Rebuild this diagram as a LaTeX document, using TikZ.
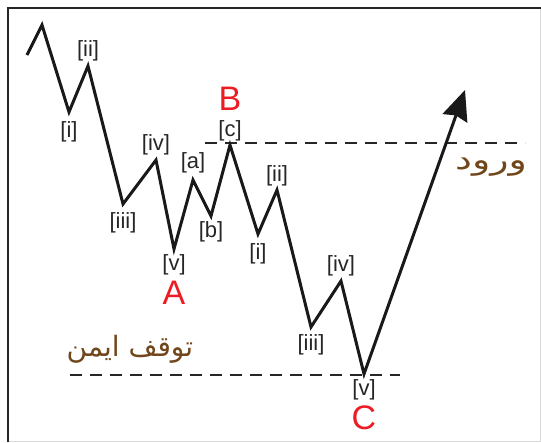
\documentclass[tikz,border=0pt]{standalone}
\usepackage{fontspec}
\setmainfont{Liberation Sans}
\newfontfamily\arabicfont[Script=Arabic]{DejaVu Sans}
\TeXXeTstate=1
\usetikzlibrary{arrows.meta,positioning}
\definecolor{wavered}{RGB}{237,28,36}
\definecolor{notebrown}{RGB}{112,70,26}

\begin{document}
\begin{tikzpicture}[x=1pt, y=-1pt,
  wave/.style={line width=3pt, line join=miter, black!90},
  level/.style={dash pattern=on 12pt off 8pt, line width=2.8pt, black!85},
  tag/.style={font=\fontsize{22}{22}\selectfont, inner sep=0pt, text=black!85},
  letter/.style={font=\fontsize{34}{34}\selectfont, inner sep=0pt, text=wavered},
  note/.style={font=\arabicfont\fontsize{28}{28}\selectfont, inner sep=0pt, text=notebrown},
  arrowtip/.style={-{Stealth[length=30pt, width=26pt, inset=3pt]}}
]
\useasboundingbox (0,0) rectangle (541,442);
% frame
\draw[line width=1pt, black!15] (540,8) -- (540,441) -- (8,441);
\draw[line width=2pt, black!85] (8,442) -- (8,8) -- (541,8);

% wave points
\coordinate (start) at (27,55);
\coordinate (top) at (42,25);
\coordinate (i1) at (69,112);
\coordinate (ii1) at (88,66);
\coordinate (iii1) at (123,204);
\coordinate (iv1) at (156,160);
\coordinate (vA) at (174,249);
\coordinate (a) at (193,180);
\coordinate (b) at (211,216);
\coordinate (cB) at (230,145);
\coordinate (i2) at (258,234);
\coordinate (ii2) at (277,190);
\coordinate (iii2) at (311,327);
\coordinate (iv2) at (341,281);
\coordinate (vC) at (364,374);
\coordinate (tip) at (465,90);

% levels
\coordinate (entry-l) at (205,143);
\coordinate (entry-r) at (525,143);
\coordinate (stop-l) at (70,375);
\coordinate (stop-r) at (400,375);
\draw[level] (entry-l) -- (entry-r);
\draw[level] (stop-l) -- (stop-r);

\draw[wave, arrowtip] (start) -- (top) -- (i1) -- (ii1) -- (iii1) -- (iv1) -- (vA)
  -- (a) -- (b) -- (cB) -- (i2) -- (ii2) -- (iii2) -- (iv2) -- (vC) -- (tip);

% labels
\node[tag, below=9pt of i1] (lbl-i1) {[i]};
\node[tag, above=5pt of ii1] (lbl-ii1) {[ii]};
\node[tag, below=8pt of iii1] (lbl-iii1) {[iii]};
\node[tag, above=5pt of iv1] (lbl-iv1) {[iv]};
\node[tag, below=5pt of vA] (lbl-vA) {[v]};
\node[letter, below=6pt of lbl-vA] (A) {A};
\node[tag, above=7pt of a] (lbl-a) {[a]};
\node[tag, below=5pt of b] (lbl-b) {[b]};
\node[tag, above=4pt of cB] (lbl-cB) {[c]};
\node[letter, above=9pt of lbl-cB] (B) {B};
\node[tag, below=9pt of i2] (lbl-i2) {[i]};
\node[tag, above=4pt of ii2] (lbl-ii2) {[ii]};
\node[tag, below=7pt of iii2] (lbl-iii2) {[iii]};
\node[tag, above=5pt of iv2] (lbl-iv2) {[iv]};
\node[tag, below=5pt of vC] (lbl-vC) {[v]};
\node[letter, below=6pt of lbl-vC] (C) {C};

% notes
\node[note] (entry) at (491,167) {\scalebox{1.35}[1]{\beginR ورود\endR}};
\node[note] (stop) at (130,349) {\beginR توقف ایمن\endR};
\end{tikzpicture}
\end{document}
